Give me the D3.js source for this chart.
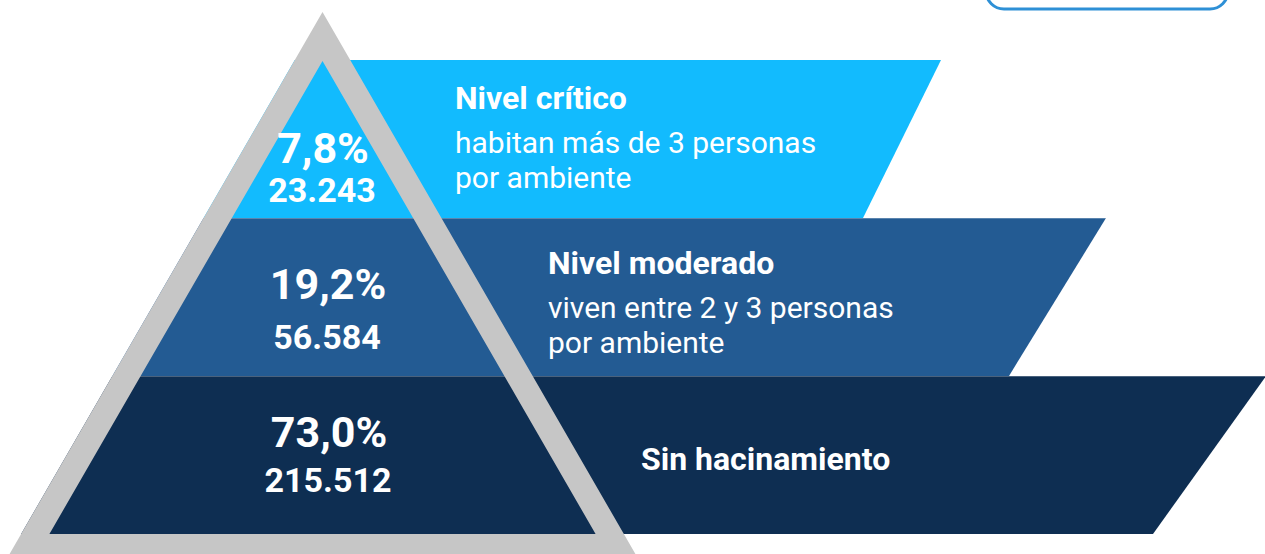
<!DOCTYPE html>
<html>
<head>
<meta charset="utf-8">
<script src="https://cdn.jsdelivr.net/npm/d3@7"></script>
<style>
  html, body { margin: 0; padding: 0; background: #fff; }
  svg { display: block; font-family: Roboto, "Noto Sans", sans-serif; }
</style>
</head>
<body>
<svg id="chart" width="1265" height="554"></svg>
<script>
// data
const levels = ["Nivel crítico", "Nivel moderado", "Sin hacinamiento"];
const shares = [7.8, 19.2, 73.0];
const counts = [23243, 56584, 215512];
const descriptions = [
    ["habitan más de 3 personas", "por ambiente"],
    ["viven entre 2 y 3 personas", "por ambiente"],
    []
];
const colors = ["#12BBFE", "#235B93", "#0E2E52"];

const W = 1265, H = 554;
const svg = d3.select("#chart");

const locale = d3.formatLocale({ decimal: ",", thousands: ".", grouping: [3], currency: ["$", ""] });
const fmtPct = v => locale.format(".1f")(v) + "%";
const fmtNum = locale.format(",d");

// vertical layout of the bands
const y = d3.scaleBand().domain(levels).range([60, 534]).paddingInner(0);

// pyramid geometry
const apexX = 322.5;
const slope = Math.tan(Math.PI / 6);   // 30deg sides
const outerApexY = 12, innerApexY = 61;
const outerLeft = yy => apexX - slope * (yy - outerApexY);

// right slanted edges of the bands (top corner, bottom corner)
const rightTop = [941, 1106, 1266];
const rightBot = [863, 1009, 1153];
const labelX = [323, 328, 329];
const textX = [455, 548, 641];

// bands
const bands = svg.append("g").attr("class", "bands");
levels.forEach((lv, i) => {
    const y0 = y(lv), y1 = y(lv) + y.bandwidth();
    const pts = [
        [outerLeft(y0), y0], [rightTop[i], y0],
        [rightBot[i], y1], [outerLeft(y1), y1]
    ];
    bands.append("path")
        .attr("d", d3.line()(pts) + "Z")
        .attr("fill", colors[i]);
    if (i > 0) {
        // faint seam at the top of each lower band
        bands.append("line")
            .attr("x1", outerLeft(y0)).attr("x2", rightTop[i])
            .attr("y1", y0 + 0.5).attr("y2", y0 + 0.5)
            .attr("stroke", "rgba(255,255,255,0.25)")
            .attr("stroke-width", 1);
    }
});

// gray triangle frame (outer minus inner)
const innerBase = 534, outerBase = 566;
const outerPts = [[apexX, outerApexY],
    [apexX + slope * (outerBase - outerApexY), outerBase],
    [apexX - slope * (outerBase - outerApexY), outerBase]];
const innerPts = [[apexX, innerApexY],
    [apexX + slope * (innerBase - innerApexY), innerBase],
    [apexX - slope * (innerBase - innerApexY), innerBase]];
svg.append("path")
    .attr("d", d3.line()(outerPts) + "Z" + d3.line()(innerPts) + "Z")
    .attr("fill", "#C6C6C6")
    .attr("fill-rule", "evenodd");

// values inside the pyramid
const pctY = [163, 299, 447];
const numY = [202, 349, 492];
levels.forEach((lv, i) => {
    svg.append("text")
        .attr("x", labelX[i]).attr("y", pctY[i])
        .attr("text-anchor", "middle")
        .attr("fill", "#fff")
        .style("font-weight", "bold")
        .style("font-size", "43px")
        .text(fmtPct(shares[i]));
    svg.append("text")
        .attr("x", labelX[i] - 1).attr("y", numY[i])
        .attr("text-anchor", "middle")
        .attr("fill", "#fff")
        .style("font-weight", "bold")
        .style("font-size", "34px")
        .text(fmtNum(counts[i]));
});

// band titles and descriptions
const titleY = [109, 274, 470];
levels.forEach((lv, i) => {
    svg.append("text")
        .attr("x", textX[i]).attr("y", titleY[i])
        .attr("fill", "#fff")
        .style("font-weight", "bold")
        .style("font-size", "32px")
        .text(lv);
    descriptions[i].forEach((line, j) => {
        svg.append("text")
            .attr("x", textX[i]).attr("y", titleY[i] + 44 + j * 35)
            .attr("fill", "#fff")
            .style("font-size", "30px")
            .text(line);
    });
});

// partially visible rounded box at the top right
svg.append("rect")
    .attr("x", 986).attr("y", -40)
    .attr("width", 242).attr("height", 49)
    .attr("rx", 18).attr("ry", 18)
    .attr("fill", "none")
    .attr("stroke", "#2E90D6")
    .attr("stroke-width", 3);
</script>
</body>
</html>
